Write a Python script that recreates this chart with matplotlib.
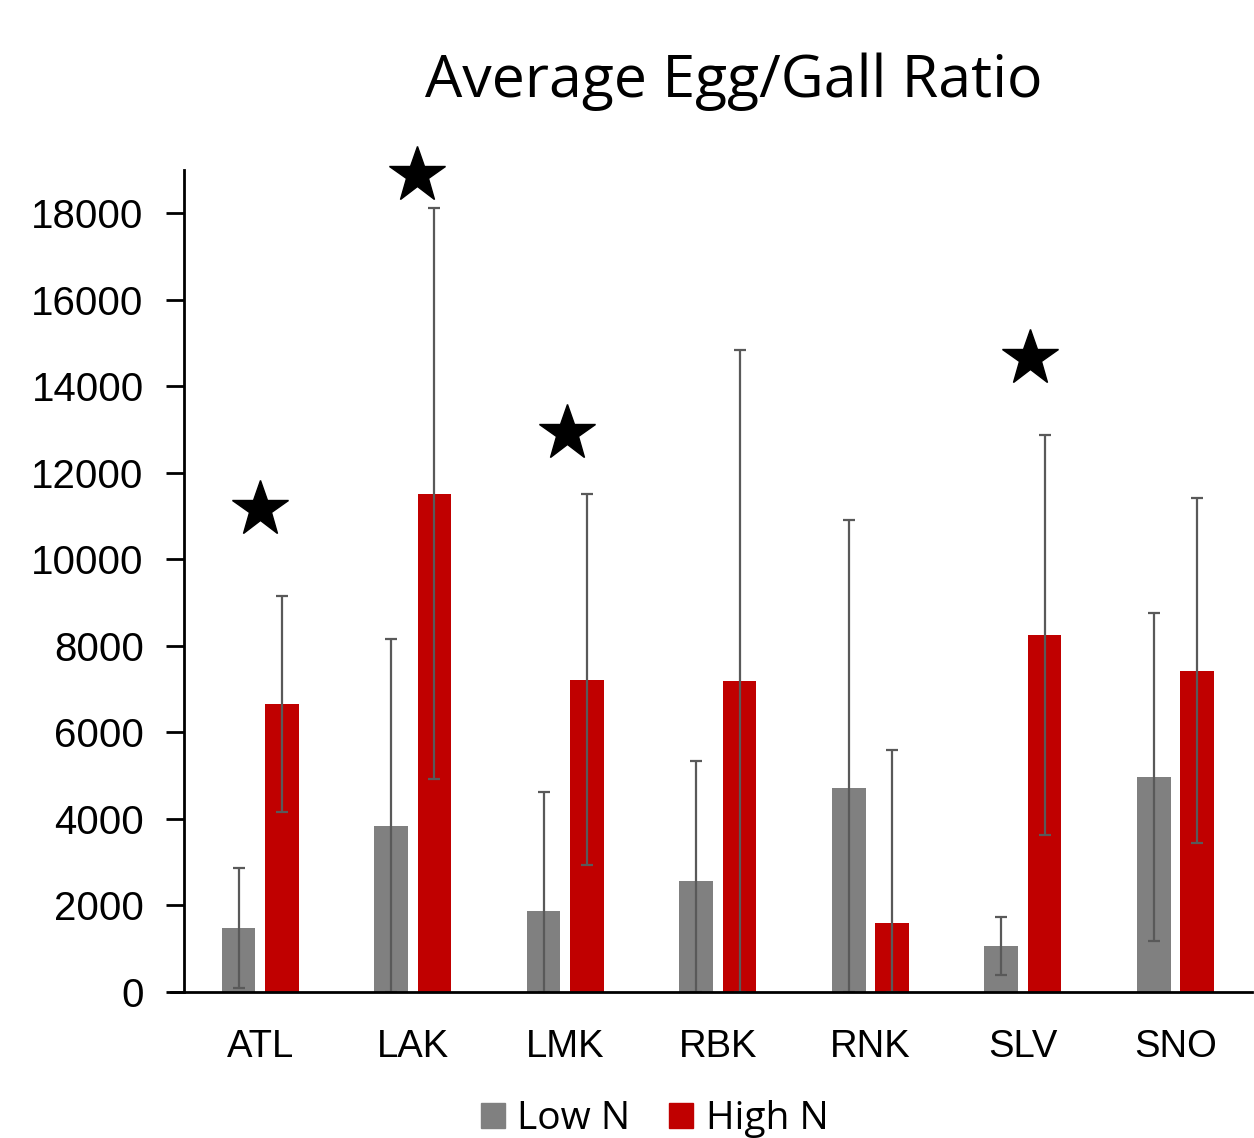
import numpy as np
import matplotlib.pyplot as plt
from matplotlib.patches import Patch
from matplotlib.lines import Line2D

sites = ["ATL", "LAK", "LMK", "RBK", "RNK", "SLV", "SNO"]
low_n = [1480, 3830, 1870, 2560, 4710, 1060, 4980]
low_err = [1390, 4320, 2750, 2770, 6210, 670, 3790]
high_n = [6650, 11520, 7220, 7180, 1590, 8260, 7430]
high_err = [2500, 6600, 4280, 7660, 4000, 4620, 3980]
# significance stars: (x position, height)
star_x = [0.0, 1.03, 2.01, 5.045]
star_y = [11170, 18880, 12920, 14650]

grey = "#808080"
red = "#c00000"
errc = "#595959"

fig = plt.figure(figsize=(12.54, 11.38), dpi=100)
ax = fig.add_axes([0.1467, 0.1283, 0.8515, 0.7223])

x = np.arange(len(sites))
w = 0.22
off = 0.142

ax.bar(x - off, low_n, w, color=grey, zorder=2)
ax.bar(x + off, high_n, w, color=red, zorder=2)

# error bars, lower end clipped at the axis
for xs, vals, errs in [(x - off, low_n, low_err), (x + off, high_n, high_err)]:
    lo = np.minimum(errs, vals)
    ax.errorbar(xs, vals, yerr=[lo, errs], fmt="none", ecolor=errc,
                elinewidth=1.6, capsize=4.5, capthick=1.6, zorder=3)

ax.plot(star_x, star_y, linestyle="none", marker="*", markersize=42,
        color="black", zorder=4, clip_on=False)

ax.set_xlim(-0.5, 6.5)
ax.set_ylim(0, 19000)
ax.set_yticks(range(0, 18001, 2000))
ax.set_xticks(x)
ax.set_xticklabels(sites, fontsize=27.5, family="Liberation Sans")
for lab in ax.get_yticklabels():
    lab.set_fontsize(29)
    lab.set_family("Liberation Sans")
ax.tick_params(axis="x", length=0, pad=27)
ax.tick_params(axis="y", length=13, width=2, direction="out", pad=16)

for s in ["top", "right"]:
    ax.spines[s].set_visible(False)
ax.spines["left"].set_linewidth(2)
ax.spines["bottom"].set_visible(False)
# x axis line runs a little left of the y axis
ax.add_line(Line2D([-0.5 - 0.085, 6.5], [0, 0], color="black", lw=2,
                   clip_on=False, zorder=5))

fig.text(0.585, 0.9285, "Average Egg/Gall Ratio", ha="center", va="center",
         fontsize=42.5, family="Open Sans")

handles = [Patch(color=grey), Patch(color=red)]
fig.legend(handles, ["Low N", "High N"], loc="lower center",
           bbox_to_anchor=(0.522, -0.031), ncol=2, frameon=False,
           prop={"family": "Open Sans", "size": 28},
           handlelength=0.62, handleheight=0.62, handletextpad=0.32,
           columnspacing=1.0)

fig.savefig("out.png", dpi=100)
